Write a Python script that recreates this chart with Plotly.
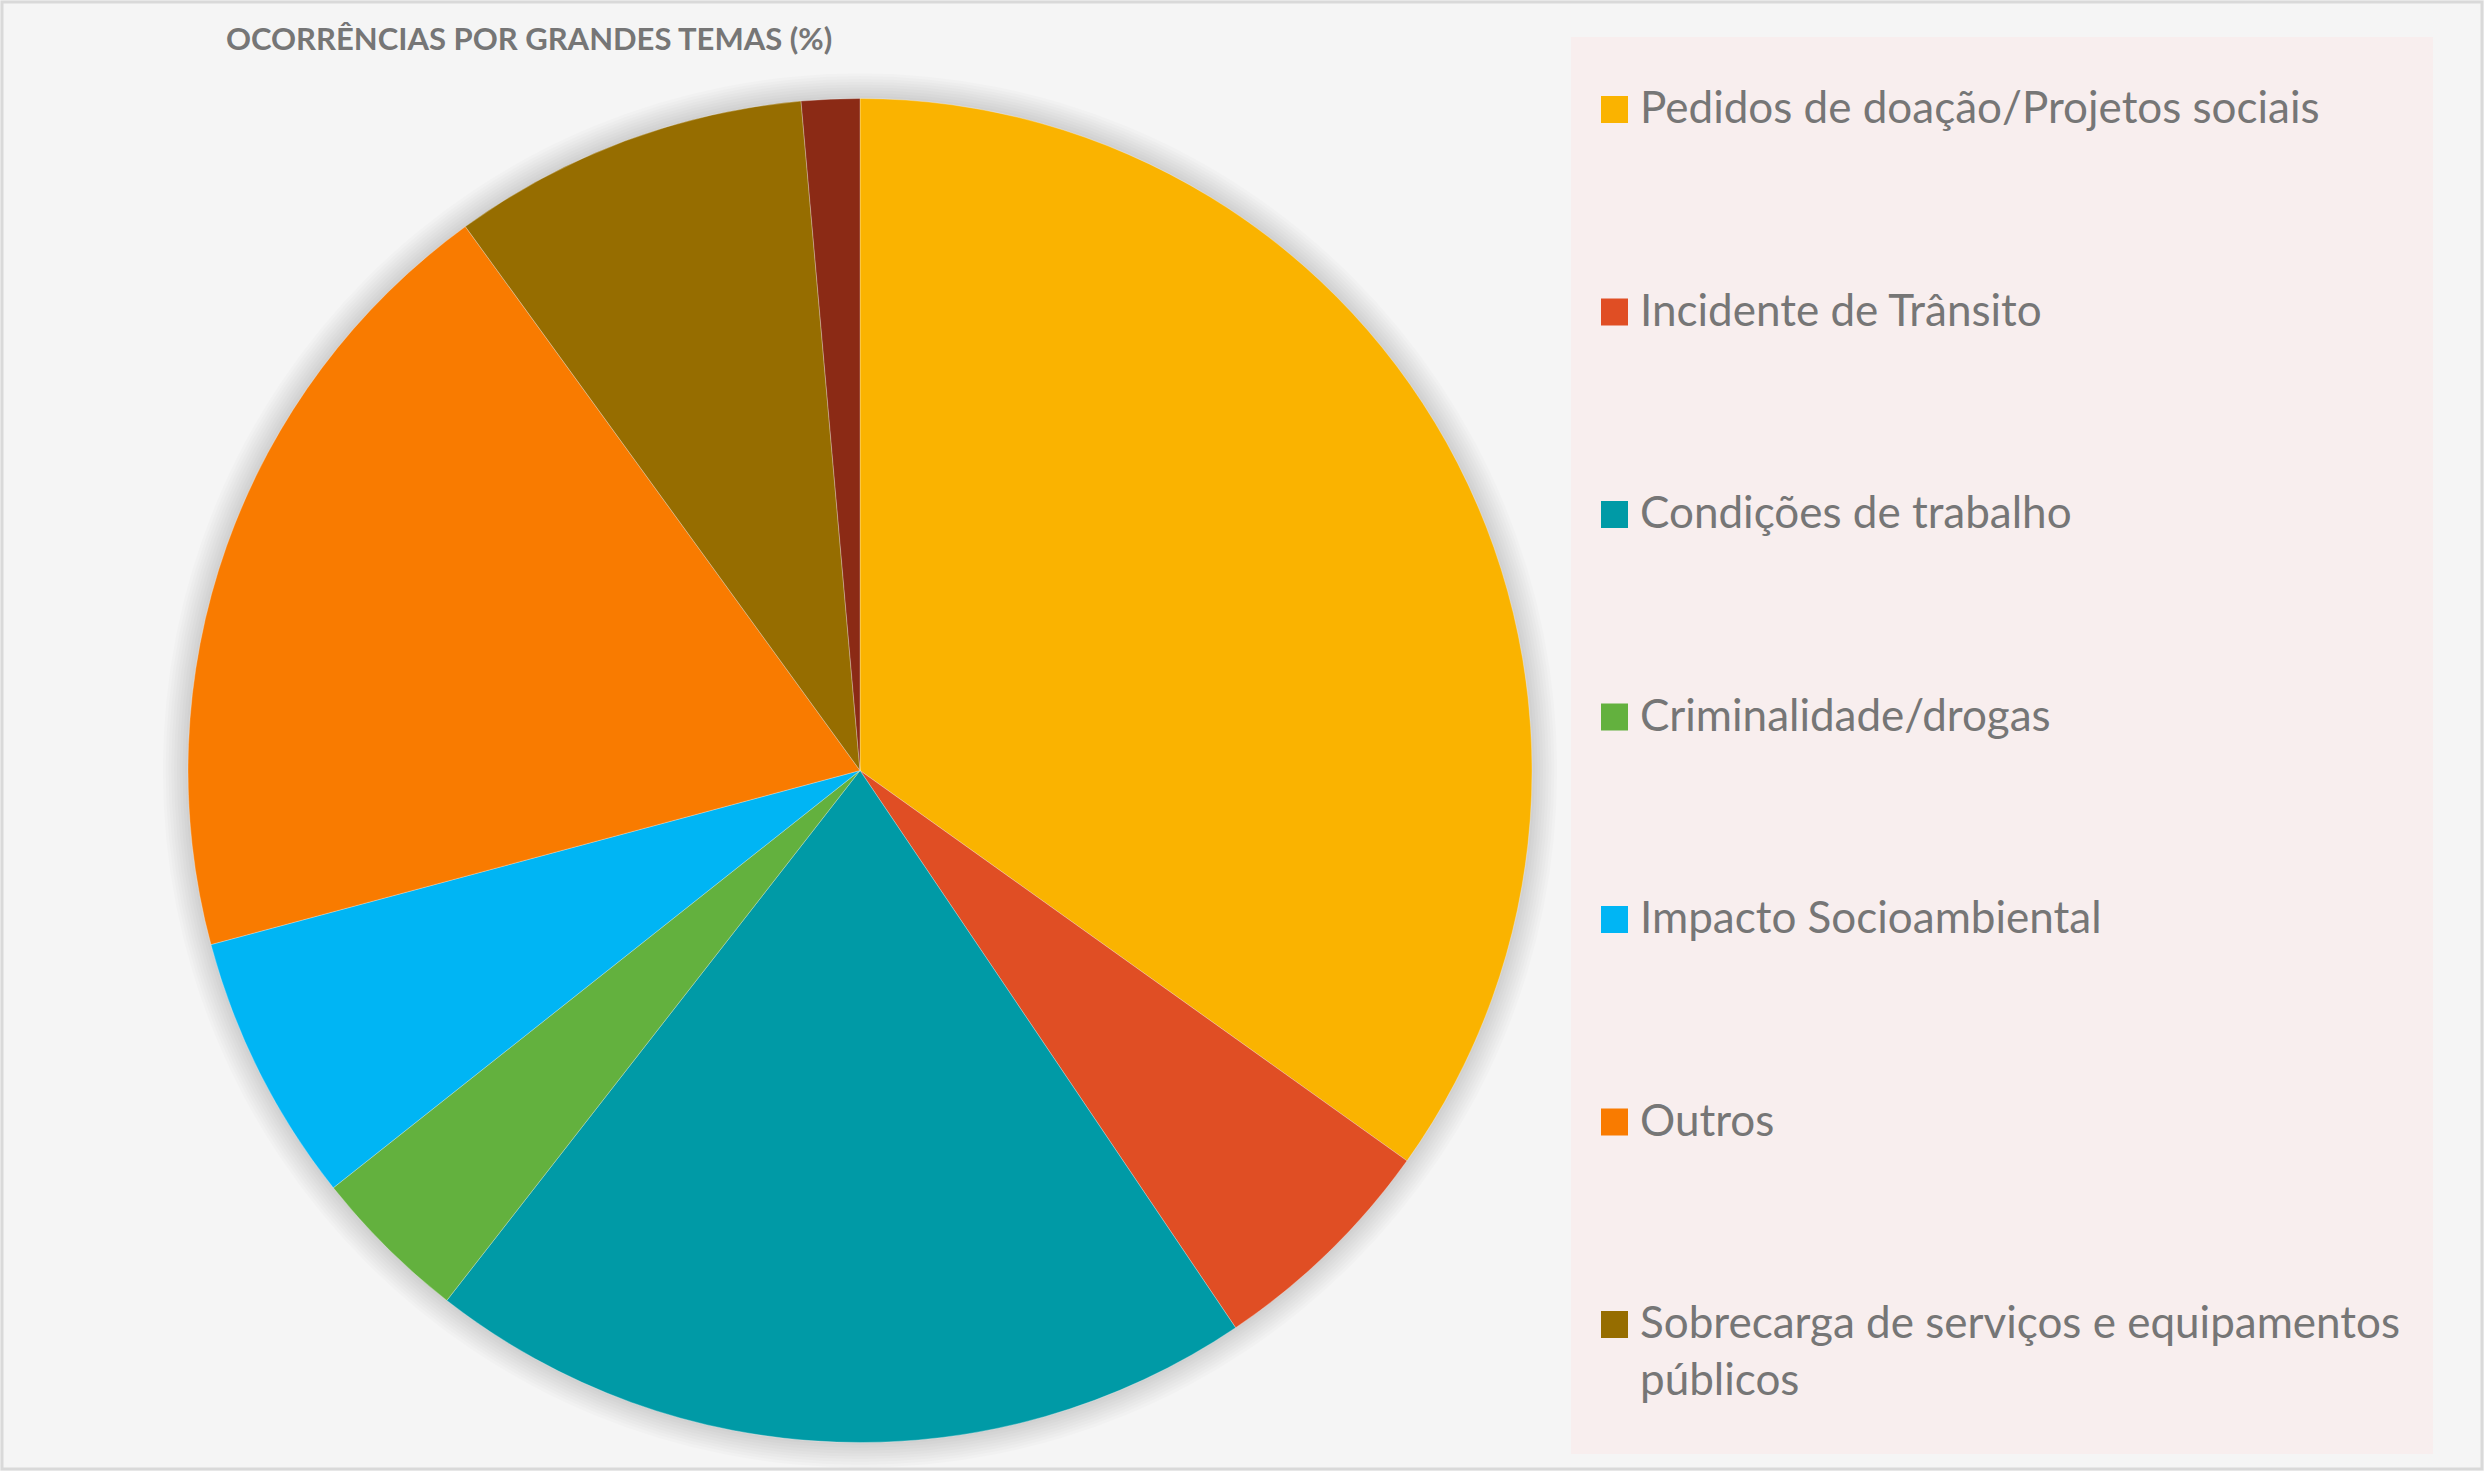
import plotly.graph_objects as go

# ---- data ----
labels = [
    "Pedidos de doação/Projetos sociais",
    "Incidente de Trânsito",
    "Condições de trabalho",
    "Criminalidade/drogas",
    "Impacto Socioambiental",
    "Outros",
    "Sobrecarga de serviços e equipamentos públicos",
    "Não classificado",
]
values = [34.9, 5.7, 20.0, 3.8, 6.5, 19.2, 8.6, 1.4]
colors = ["#FAB300", "#E04E24", "#009AA6", "#63B13E", "#00B5F4", "#F97B00", "#966D00", "#8B2A15"]
legend_labels = [
    "Pedidos de doação/Projetos sociais",
    "Incidente de Trânsito",
    "Condições de trabalho",
    "Criminalidade/drogas",
    "Impacto Socioambiental",
    "Outros",
    "Sobrecarga de serviços e equipamentos<br>públicos",
]
title_text = "OCORRÊNCIAS POR GRANDES TEMAS (%)"

# ---- layout helpers ----
W, H = 2484, 1471
def px(x):
    return x / W
def py(y):
    return 1 - y / H

cx, cy, r = 860, 770.5, 672
TEXT_COLOR = "#767676"
FONT = "Lato"

fig = go.Figure()
fig.add_trace(go.Pie(
    labels=labels,
    values=values,
    marker=dict(colors=colors, line=dict(color="rgba(255,255,255,0.35)", width=0.8)),
    sort=False,
    direction="clockwise",
    rotation=0,
    textinfo="none",
    hoverinfo="label+percent",
    showlegend=False,
    domain=dict(x=[px(cx - r), px(cx + r)], y=[py(cy + r), py(cy - r)]),
))

shapes = []
# outer frame
shapes.append(dict(type="rect", xref="paper", yref="paper", x0=px(2), y0=py(H - 2), x1=px(W - 2), y1=py(2),
                   line=dict(color="#D9D9D9", width=3), fillcolor="rgba(0,0,0,0)", layer="below"))
# soft shadow around the pie
for k in range(1, 10):
    rr = r + k * 2.8
    shapes.append(dict(type="circle", xref="paper", yref="paper",
                       x0=px(cx - rr), x1=px(cx + rr), y0=py(cy + rr), y1=py(cy - rr),
                       fillcolor="rgba(0,0,0,0.016)", line=dict(width=0), layer="below"))
# legend box
shapes.append(dict(type="rect", xref="paper", yref="paper", x0=px(1571), x1=px(2433), y0=py(1454), y1=py(37),
                   fillcolor="#F8EEEE", line=dict(width=0), layer="below"))

annotations = [dict(text=title_text, x=px(224), y=py(38), xref="paper", yref="paper",
                    xanchor="left", yanchor="middle", showarrow=False,
                    font=dict(family=FONT, size=31, color=TEXT_COLOR, weight="bold"))]

row0, gap = 96, 202.5
for i, lab in enumerate(legend_labels):
    top = row0 + i * gap
    shapes.append(dict(type="rect", xref="paper", yref="paper", x0=px(1601), x1=px(1628),
                       y0=py(top + 27), y1=py(top), fillcolor=colors[i], line=dict(width=0)))
    annotations.append(dict(text=lab, x=px(1638), y=py(top - 18), xref="paper", yref="paper",
                            xanchor="left", yanchor="top", align="left", showarrow=False,
                            font=dict(family=FONT, size=44, color=TEXT_COLOR)))

fig.update_layout(
    width=W, height=H,
    margin=dict(l=0, r=0, t=0, b=0),
    paper_bgcolor="#F5F5F5",
    plot_bgcolor="#F5F5F5",
    shapes=shapes,
    annotations=annotations,
    showlegend=False,
)

fig.write_html("out.html")
